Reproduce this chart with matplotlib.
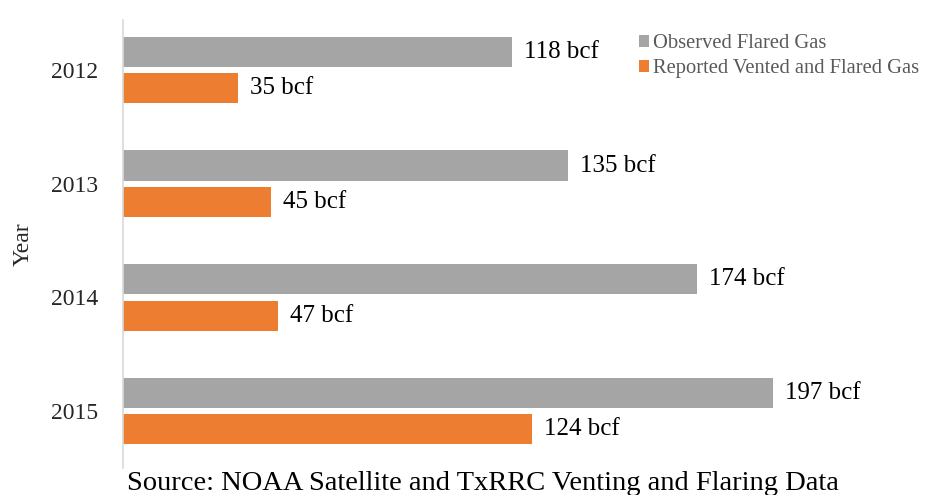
import matplotlib.pyplot as plt
import numpy as np

years = ['2012', '2013', '2014', '2015']
observed = [118, 135, 174, 197]
reported = [35, 45, 47, 124]
nombre_obs = 'Observed Flared Gas'
nombre_rep = 'Reported Vented and Flared Gas'
fuente = 'Source: NOAA Satellite and TxRRC Venting and Flaring Data'

plt.rcParams['font.family'] = ['Liberation Serif', 'DejaVu Serif']

fig = plt.figure(figsize=(9.28, 4.95), dpi=100)
ax = fig.add_axes([123/928, 27/495, (905-123)/928, (475-27)/495])

pos = np.arange(len(years))
alto = 0.265
desp = 0.16

ax.barh(pos - desp, observed, height=alto, color='#A5A5A5', label=nombre_obs)
ax.barh(pos + desp, reported, height=alto, color='#ED7D31', label=nombre_rep)

for i in range(len(years)):
    ax.text(observed[i] + 3.6, pos[i] - desp, str(observed[i]) + ' bcf',
            va='center', ha='left', fontsize=18, color='black')
    ax.text(reported[i] + 3.6, pos[i] + desp, str(reported[i]) + ' bcf',
            va='center', ha='left', fontsize=18, color='black')

ax.set_xlim(0, (905-123)/3.30)
ax.set_ylim(3.5, -0.44)
ax.set_yticks(pos)
ax.set_yticklabels(years, fontsize=17, color='#262626')
ax.set_xticks([])
ax.tick_params(axis='y', length=0, pad=18)

for lado in ['top', 'right', 'bottom']:
    ax.spines[lado].set_visible(False)
ax.spines['left'].set_color('#D9D9D9')
ax.spines['left'].set_linewidth(1.2)

ax.set_ylabel('Year', fontsize=17, color='#262626', labelpad=12)

leg = ax.legend(loc='upper left', bbox_to_anchor=(639/928, 1 - 34/495),
                bbox_transform=fig.transFigure, frameon=False, fontsize=14.8,
                handlelength=0.5, handleheight=0.5, handletextpad=0.2,
                labelspacing=0.3, borderpad=0, borderaxespad=0)
for t in leg.get_texts():
    t.set_color('#595959')

fig.text(127/928, 1 - 483/495, fuente, fontsize=20.5, color='black',
         ha='left', va='center')

plt.savefig('out.png', dpi=100)
